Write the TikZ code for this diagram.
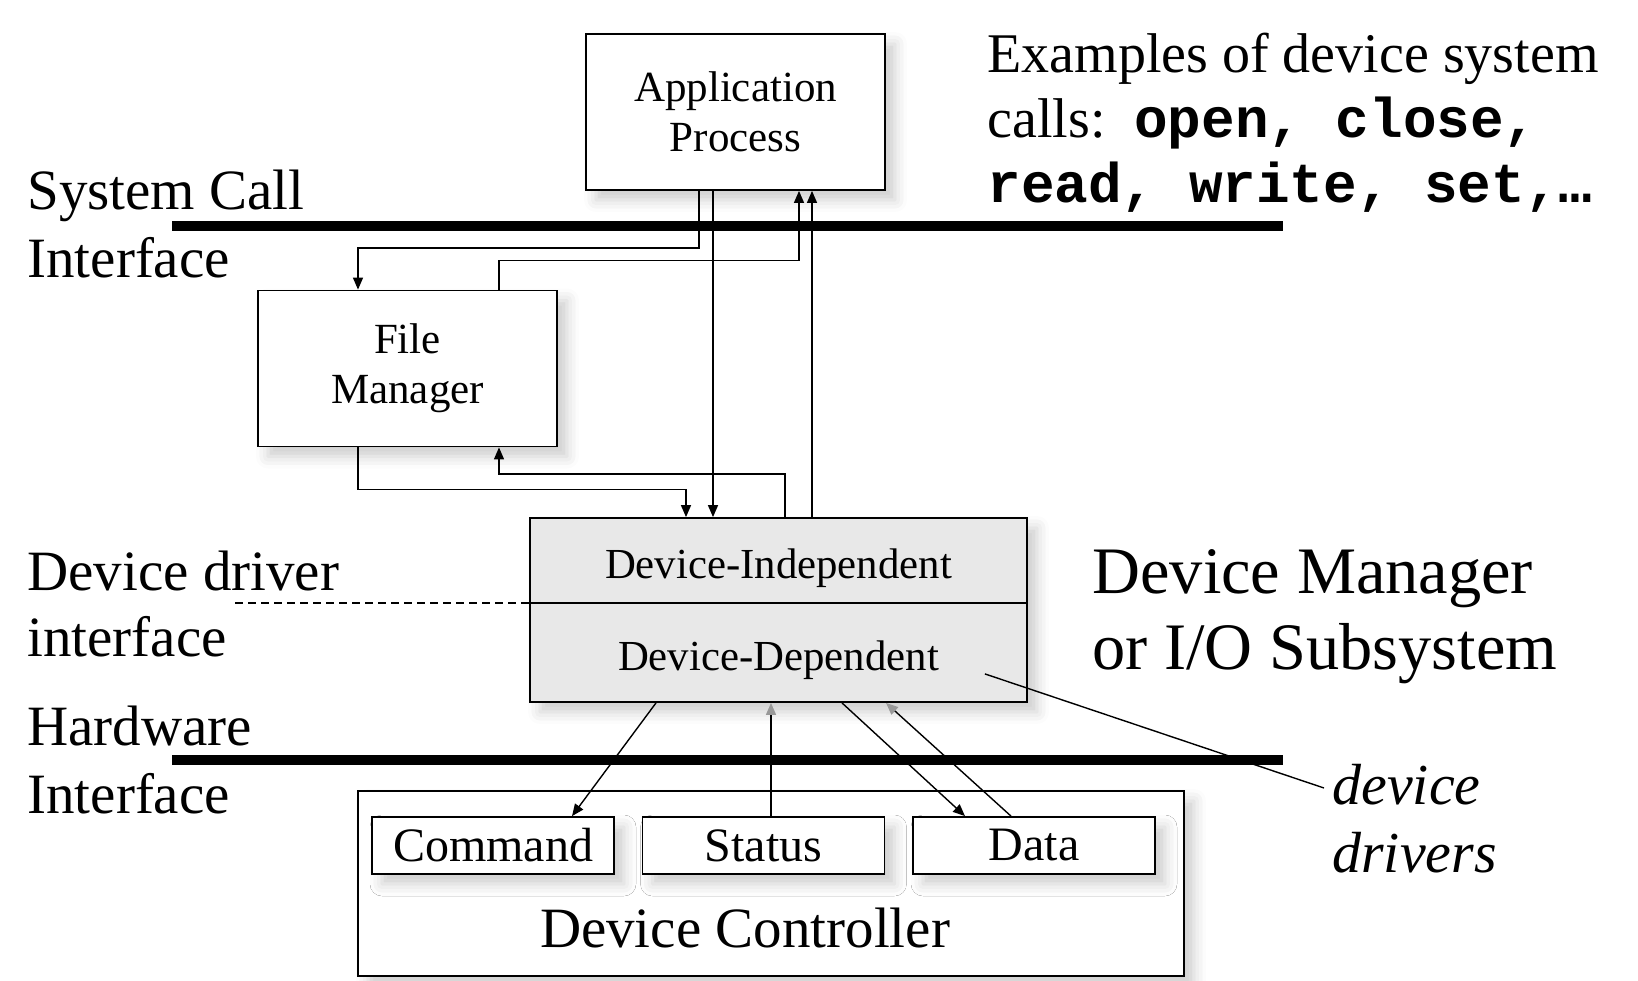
\documentclass[tikz,border=0pt]{standalone}
\usepackage{fontspec}
\setmainfont{Liberation Serif}
\setmonofont{Liberation Mono}
\usepackage{tikz}
\usetikzlibrary{arrows.meta,shadows.blur}
\definecolor{PanelGray}{HTML}{E8E8E8}
\definecolor{FadeGray}{HTML}{999999}

\begin{document}
\begin{tikzpicture}[
  x=0.5pt, y=-0.5pt,
  box/.style={draw, line width=0.9pt, fill=white, inner sep=0pt, align=center,
    blur shadow={shadow xshift=5pt, shadow yshift=-5pt, shadow blur radius=6pt, shadow opacity=20}},
  proc/.style={box, minimum width=149.5pt, minimum height=78pt, font=\fontsize{21.5}{25}\selectfont},
  reg/.style={box, minimum width=121pt, minimum height=28.5pt, font=\fontsize{24}{28}\selectfont},
  layer/.style={inner sep=0pt, anchor=base, font=\fontsize{21.4}{24}\selectfont},
  arrow/.style={-{Triangle[length=6pt,width=5pt]}, line width=0.7pt},
  fadearrow/.style={-{Triangle[length=6pt,width=5pt,color=FadeGray]}, line width=0.7pt},
  link/.style={line width=0.7pt},
  bar/.style={line width=5pt},
  note/.style={inner sep=0pt, anchor=base west, align=left}
]
\useasboundingbox (0,0) rectangle (1638,980);

% boxes
\node[proc] (app) at (735.5,112) {Application\\Process};
\node[proc] (fm) at (407.5,368.5) {File\\Manager};
\node[box, fill=PanelGray, minimum width=248.5pt, minimum height=92pt] (devmgr) at (778.5,610) {};
\node[layer] (indep) at (778.5,578) {Device-Independent};
\node[layer] (dep) at (778.5,670) {Device-Dependent};
\node[box, minimum width=413pt, minimum height=92.5pt] (ctrl) at (771,883.5) {};
\node[inner sep=0pt, anchor=base, font=\fontsize{28.5}{34}\selectfont] (ctrltext) at (745,947) {Device Controller};
\node[reg] (cmd) at (493,845.5) {Command};
\node[reg] (stat) at (763.5,845.5) {Status};
\node[reg] (data) at (1034,845.5) {Data};

% interface bars
\coordinate (sysL) at (172,226);
\coordinate (sysR) at (1283,226);
\coordinate (hwL) at (172,760);
\coordinate (hwR) at (1283,760);
\coordinate (ddi) at (235,603);
\draw[bar] (sysL) -- (sysR);
\draw[bar] (hwL) -- (hwR);
\draw[line width=0.8pt] (ddi -| devmgr.west) -- (ddi -| devmgr.east);
\draw[line width=0.6pt, dash pattern=on 4pt off 2.5pt] (ddi) -- (ddi -| devmgr.west);

% labels (base = last line)
\node[note, font=\fontsize{28.5}{34}\selectfont] (syscall) at (27,277) {System Call\\Interface};
\node[note, font=\fontsize{28.5}{33}\selectfont] (drvif) at (27,656) {Device driver\\interface};
\node[note, font=\fontsize{28.5}{34}\selectfont] (hwif) at (27,813) {Hardware\\Interface};
\node[note, font=\fontsize{33.2}{38}\selectfont] (devmgrlbl) at (1092,669) {Device Manager\\or I/O Subsystem};
\node[note, font=\fontsize{28}{32.5}\selectfont] (examples) at (987,202)
  {Examples of device system\\calls:\hspace{5pt} \texttt{\bfseries open, close,}\\\texttt{\bfseries read, write, set,…}};
\node[note, font=\itshape\fontsize{29}{34}\selectfont] (drivers) at (1332,872) {device\\drivers};

% application process, file manager, device manager
\draw[arrow] ([xshift=-18.25pt]app.south) -- ++(0,57) -| ([xshift=-24.75pt]fm.north);
\draw[arrow] ([xshift=45.75pt]fm.north) -- ++(0,-29) -| ([xshift=31.75pt]app.south);
\draw[arrow] ([xshift=-11.25pt]app.south) -- ([xshift=-32.75pt]devmgr.north);
\draw[arrow] ([xshift=16.75pt]devmgr.north) -- ([xshift=38.25pt]app.south);
\draw[arrow] ([xshift=-24.75pt]fm.south) -- ++(0,42) -| ([xshift=-46.25pt]devmgr.north);
\draw[arrow] ([xshift=3.25pt]devmgr.north) -- ++(0,-43) -| ([xshift=45.75pt]fm.south);

% device manager <-> controller registers
\draw[arrow] ([xshift=-61.25pt]devmgr.south) -- ([xshift=39.5pt]cmd.north);
\draw[fadearrow] ([xshift=3.75pt]stat.north) -- ([xshift=-3.75pt]devmgr.south);
\draw[arrow] ([xshift=31.75pt]devmgr.south) -- ([xshift=-34.5pt]data.north);
\draw[fadearrow] ([xshift=-11.5pt]data.north) -- ([xshift=53.75pt]devmgr.south);

% device drivers pointer
\coordinate (drvend) at (1324,788);
\draw[link] ([xshift=-21.5pt,yshift=14.5pt]devmgr.south east) -- (drvend);
\end{tikzpicture}
\end{document}
